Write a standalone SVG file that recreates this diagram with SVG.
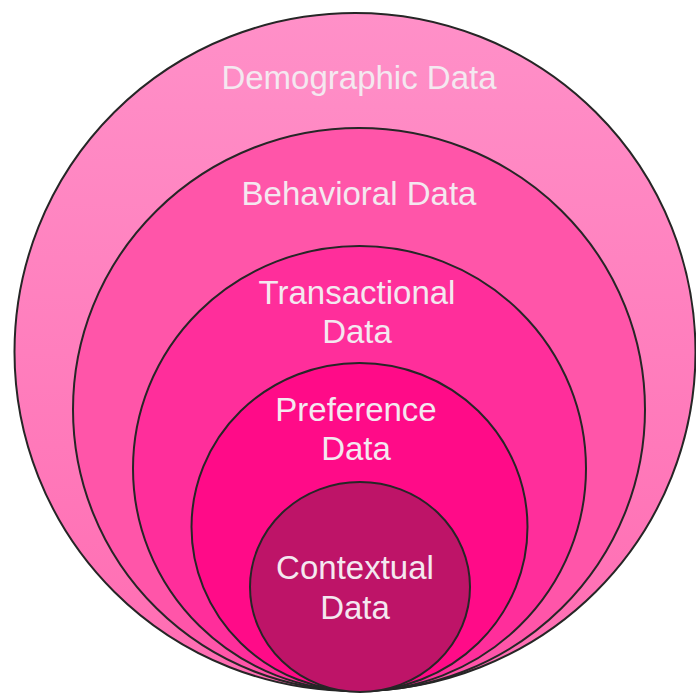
<svg xmlns="http://www.w3.org/2000/svg" width="696" height="696" viewBox="0 0 696 696">
  <defs>
    <linearGradient id="g1" x1="0" y1="0" x2="0" y2="1">
      <stop offset="0" stop-color="#FF90C8"/>
      <stop offset="1" stop-color="#FF6CB2"/>
    </linearGradient>
  </defs>
  <style>
    .ring { stroke: #262626; stroke-width: 2; }
    .lbl { font-family: "Liberation Sans", Arial, sans-serif; font-size: 33px; fill: #F4E8F0; text-anchor: middle; }
  </style>
  <rect width="696" height="696" fill="#FFFFFF"/>
  <g id="demographic">
    <ellipse class="ring" cx="355" cy="352" rx="340.5" ry="339" fill="url(#g1)"/>
    <text class="lbl" x="359" y="89">Demographic Data</text>
  </g>
  <g id="behavioral">
    <ellipse class="ring" cx="359" cy="409.5" rx="286" ry="281.5" fill="#FF55A9"/>
    <text class="lbl" x="359" y="205">Behavioral Data</text>
  </g>
  <g id="transactional">
    <ellipse class="ring" cx="359.5" cy="468.5" rx="226.5" ry="222.5" fill="#FF2E9B"/>
    <text class="lbl" x="357" y="304">Transactional</text>
    <text class="lbl" x="357" y="343">Data</text>
  </g>
  <g id="preference">
    <ellipse class="ring" cx="359.5" cy="527" rx="168" ry="164" fill="#FF0B88"/>
    <text class="lbl" x="356" y="421">Preference</text>
    <text class="lbl" x="356" y="460">Data</text>
  </g>
  <g id="contextual">
    <ellipse class="ring" cx="360" cy="587" rx="110" ry="105" fill="#BE1468"/>
    <text class="lbl" x="355" y="579">Contextual</text>
    <text class="lbl" x="355" y="619">Data</text>
  </g>
  <g id="connectors"/>
</svg>
